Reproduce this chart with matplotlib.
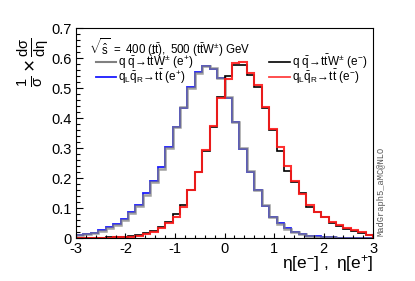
import numpy as np
import matplotlib
matplotlib.use("Agg")
import matplotlib.pyplot as plt
from matplotlib.ticker import MultipleLocator, FuncFormatter

plt.rcParams['font.family'] = ['Liberation Sans', 'DejaVu Sans']
plt.rcParams['mathtext.fontset'] = 'custom'
plt.rcParams['mathtext.rm'] = 'Liberation Sans'
plt.rcParams['mathtext.it'] = 'Liberation Sans'
plt.rcParams['mathtext.bf'] = 'Liberation Sans:bold'

# 40 bins of 0.15 in eta between -3 and 3
eta_edges = np.round(np.arange(-3.0, 3.001, 0.15), 3)

# q_L qbar_R -> ttbar (e+)
ttbar_ep = [0.011, 0.014, 0.019, 0.027, 0.036, 0.047, 0.064, 0.088, 0.111, 0.150,
            0.190, 0.239, 0.305, 0.372, 0.433, 0.506, 0.555, 0.574, 0.566, 0.536,
            0.467, 0.389, 0.298, 0.222, 0.161, 0.108, 0.072, 0.050, 0.033, 0.022,
            0.014, 0.009, 0.006, 0.004, 0.003, 0.002, 0.002, 0.001, 0.001, 0.001]
# q qbar -> ttbar W (e+)
ttw_ep = [0.010, 0.015, 0.018, 0.025, 0.034, 0.045, 0.062, 0.085, 0.108, 0.145,
          0.187, 0.232, 0.302, 0.370, 0.437, 0.500, 0.552, 0.575, 0.567, 0.535,
          0.470, 0.387, 0.302, 0.225, 0.160, 0.110, 0.072, 0.048, 0.032, 0.020,
          0.013, 0.008, 0.005, 0.004, 0.003, 0.002, 0.001, 0.001, 0.001, 0.001]
# q_L qbar_R -> ttbar (e-)
ttbar_em = [0.001, 0.001, 0.001, 0.002, 0.002, 0.003, 0.004, 0.005, 0.008, 0.014,
            0.022, 0.033, 0.050, 0.070, 0.106, 0.161, 0.220, 0.295, 0.375, 0.469,
            0.531, 0.583, 0.587, 0.550, 0.511, 0.437, 0.364, 0.306, 0.240, 0.190,
            0.147, 0.111, 0.089, 0.070, 0.054, 0.043, 0.035, 0.028, 0.020, 0.012]
# q qbar -> ttbar W (e-)
ttw_em = [0.001, 0.001, 0.002, 0.002, 0.003, 0.003, 0.004, 0.006, 0.010, 0.016,
          0.024, 0.036, 0.055, 0.080, 0.110, 0.160, 0.222, 0.290, 0.370, 0.470,
          0.540, 0.578, 0.578, 0.545, 0.505, 0.433, 0.360, 0.292, 0.226, 0.187,
          0.150, 0.106, 0.088, 0.072, 0.052, 0.042, 0.032, 0.025, 0.018, 0.010]

fig = plt.figure(figsize=(4.15, 2.81), dpi=100)
ax = fig.add_axes([0.183, 0.152, 0.716, 0.747])

ax.stairs(ttbar_ep, eta_edges, color='#1a1aff', lw=1.3)
ax.stairs(ttw_ep, eta_edges, color='#808080', lw=1.8, alpha=0.75)
ax.stairs(ttw_em, eta_edges, color='black', lw=1.2)
ax.stairs(ttbar_em, eta_edges, color='#ff1a1a', lw=1.5, alpha=0.9)

ax.set_xlim(-3, 3)
ax.set_ylim(0, 0.7)
ax.xaxis.set_major_locator(MultipleLocator(1))
ax.xaxis.set_minor_locator(MultipleLocator(0.2))
ax.yaxis.set_major_locator(MultipleLocator(0.1))
ax.yaxis.set_minor_locator(MultipleLocator(0.02))
ax.yaxis.set_major_formatter(FuncFormatter(lambda v, p: '%g' % round(v, 2)))
ax.xaxis.set_major_formatter(FuncFormatter(lambda v, p: '%g' % round(v, 2)))
ax.tick_params(axis='both', which='both', direction='in', labelsize=10.5,
               top=False, right=False, width=0.8)
ax.tick_params(axis='x', which='major', length=3.8, pad=3)
ax.tick_params(axis='x', which='minor', length=2.2)
ax.tick_params(axis='y', which='major', length=5.2, pad=3)
ax.tick_params(axis='y', which='minor', length=3.0)
for s in ax.spines.values():
    s.set_linewidth(0.8)

fig.text(0.08, 0.78, r'$\frac{1}{\sigma}\times\frac{d\sigma}{d\eta}$', rotation=90,
         fontsize=15, ha='center', va='center')
fig.text(0.899, 0.025, r'$\eta[\mathrm{e}^{-}]\ ,\ \eta[\mathrm{e}^{+}]$',
         fontsize=12.5, ha='right', va='bottom')

ax.text(0.045, 0.96, r'$\sqrt{\hat{\mathrm{s}}}\ =\ \mathrm{400\ (t\bar{t}),\ 500\ (t\bar{t}W^{\pm})\ GeV}$',
        transform=ax.transAxes, fontsize=8.3, ha='left', va='top')

lx1, lx2 = 0.067, 0.135
ly1, ly2 = 0.842, 0.770
ax.plot([lx1, lx2], [ly1, ly1], transform=ax.transAxes, color='#808080', lw=1.5)
ax.plot([lx1, lx2], [ly2, ly2], transform=ax.transAxes, color='#1a1aff', lw=1.3)
ax.text(lx2 + 0.008, ly1, r'$\mathrm{q\ \bar{q}\!\rightarrow\! t\bar{t}W^{\pm}\ (e^{+})}$',
        transform=ax.transAxes, fontsize=8.5, va='center')
ax.text(lx2 + 0.008, ly2, r'$\mathrm{q_{L}\bar{q}_{R}\!\rightarrow\! t\bar{t}\ (e^{+})}$',
        transform=ax.transAxes, fontsize=8.5, va='center')

rx1, rx2 = 0.65, 0.72
ax.plot([rx1, rx2], [ly1, ly1], transform=ax.transAxes, color='black', lw=1.2)
ax.plot([rx1, rx2], [ly2, ly2], transform=ax.transAxes, color='#ff4040', lw=1.3)
ax.text(rx2 + 0.008, ly1, r'$\mathrm{q\ \bar{q}\!\rightarrow\! t\bar{t}W^{\pm}\ (e^{-})}$',
        transform=ax.transAxes, fontsize=8.5, va='center')
ax.text(rx2 + 0.008, ly2, r'$\mathrm{q_{L}\bar{q}_{R}\!\rightarrow\! t\bar{t}\ (e^{-})}$',
        transform=ax.transAxes, fontsize=8.5, va='center')

fig.text(0.917, 0.16, 'MadGraph5_aMC@NLO', rotation=90, fontsize=6.3,
         family='Liberation Mono', color='#555555', ha='center', va='bottom')

fig.savefig('out.png', dpi=100)
